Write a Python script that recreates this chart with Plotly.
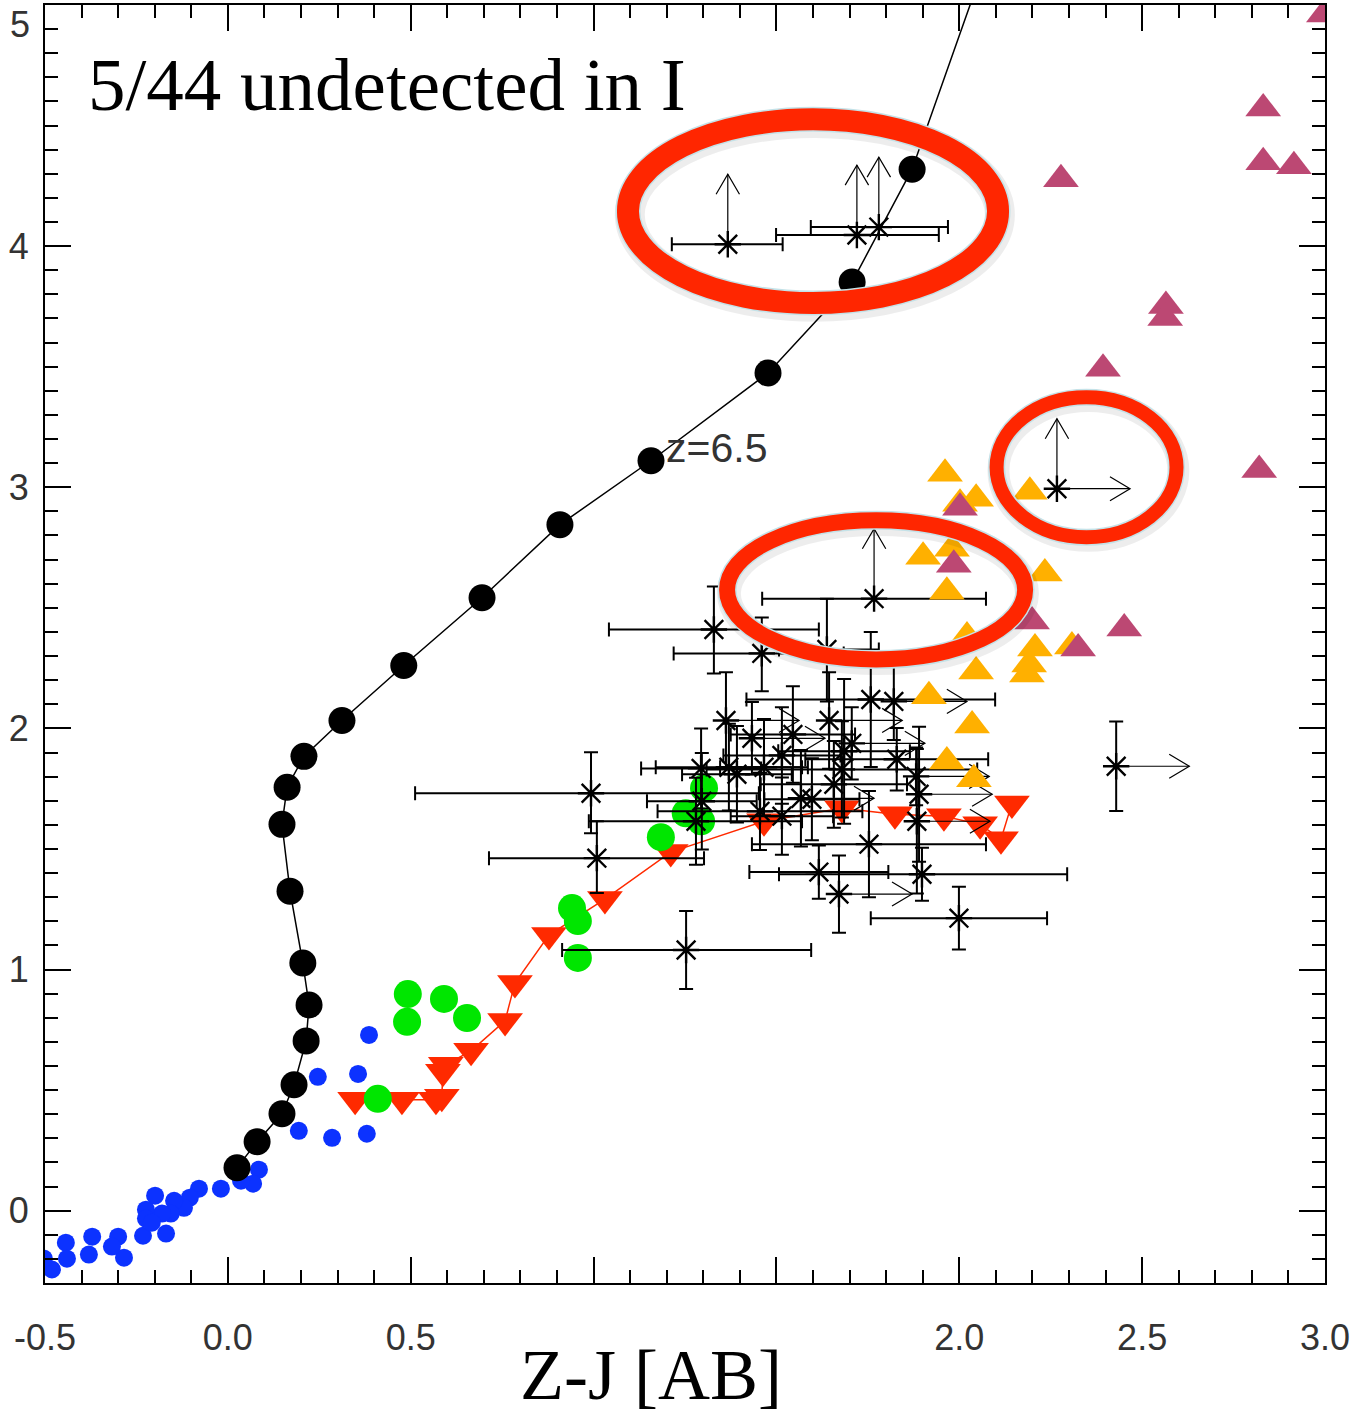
import plotly.graph_objects as go

# ---------------- data ----------------
# blue points
blue_x = [0.386, 0.246, 0.356, 0.194, 0.285, 0.380, 0.085, 0.069, 0.036, -0.019, -0.079, -0.104, -0.120,
          -0.147, -0.156, -0.180, -0.199, -0.224, -0.224, -0.169, -0.232, -0.208, -0.284, -0.300, -0.317,
          -0.371, -0.380, -0.443, -0.440, -0.481, -0.503]
blue_y = [0.729, 0.555, 0.567, 0.331, 0.302, 0.319, 0.170, 0.112, 0.124, 0.091, 0.091, 0.054, 0.012,
          0.041, -0.012, -0.012, 0.062, 0.004, -0.033, -0.095, -0.104, -0.050, -0.195, -0.108, -0.149,
          -0.108, -0.182, -0.133, -0.199, -0.244, -0.199]

# black track (circles + line)
trk_x = [0.025, 0.080, 0.148, 0.181, 0.214, 0.222, 0.205, 0.170, 0.148, 0.162, 0.208, 0.312, 0.481,
         0.695, 0.908, 1.157, 1.477, 1.707, 1.871, 2.090]
trk_y = [0.178, 0.286, 0.402, 0.522, 0.704, 0.853, 1.027, 1.325, 1.602, 1.756, 1.884, 2.033, 2.261,
         2.542, 2.845, 3.110, 3.474, 3.851, 4.319, 5.260]

# red track (down triangles + line)
red_x = [0.348, 0.476, 0.569, 0.585, 0.588, 0.596, 0.665, 0.758, 0.785, 0.878, 1.031, 1.211, 1.466,
         1.679, 1.824, 1.958, 2.057, 2.114, 2.144]
red_y = [0.460, 0.460, 0.460, 0.472, 0.576, 0.605, 0.663, 0.787, 0.944, 1.143, 1.292, 1.487, 1.615,
         1.669, 1.644, 1.636, 1.602, 1.540, 1.689]

# green circles
green_x = [0.410, 0.492, 0.490, 0.591, 0.654, 0.941, 0.957, 0.957, 1.184, 1.252, 1.294, 1.302]
green_y = [0.464, 0.898, 0.783, 0.878, 0.799, 1.255, 1.201, 1.048, 1.549, 1.648, 1.615, 1.752]

# orange triangles
orange_x = [1.961, 2.046, 2.002, 2.193, 1.901, 1.980, 1.966, 2.234, 2.021, 2.046, 2.207, 2.191, 2.185,
            2.308, 1.917, 2.035, 1.966, 2.040]
orange_y = [3.056, 2.952, 2.932, 2.981, 2.712, 2.745, 2.567, 2.642, 2.381, 2.236, 2.331, 2.265, 2.224,
            2.340, 2.133, 2.012, 1.863, 1.789]

# purple triangles
purple_x = [2.831, 2.831, 2.915, 2.278, 2.565, 2.563, 2.393, 2.820, 2.002, 1.985, 2.199, 2.325, 2.451, 2.997]
purple_y = [4.571, 4.348, 4.331, 4.277, 3.752, 3.702, 3.491, 3.072, 2.915, 2.679, 2.443, 2.331, 2.414, 4.961]

# observed objects (asterisks) with errors and limit flags
ast_x = [0.993, 1.009, 1.253, 1.329, 1.460, 1.638, 1.767, 2.267, 2.429, 1.367, 1.720, 1.780,
         1.294, 1.296, 1.280, 1.362, 1.370, 1.392, 1.433, 1.466, 1.515, 1.515, 1.455, 1.545,
         1.567, 1.597, 1.644, 1.657, 1.679, 1.685, 1.706, 1.758, 1.821, 1.829, 1.882, 1.890,
         1.884, 1.753, 1.616, 1.671, 1.898, 1.999]
ast_y = [1.731, 1.462, 1.081, 2.410, 2.311, 2.327, 2.538, 2.994, 1.843, 4.008, 4.046, 4.079,
         1.834, 1.698, 1.615, 2.033, 1.839, 1.810, 1.959, 1.839, 1.888, 1.636, 1.656, 1.975,
         1.710, 1.706, 2.033, 1.768, 1.830, 1.905, 1.938, 2.120, 2.112, 1.872, 1.801, 1.727,
         1.615, 1.520, 1.404, 1.313, 1.395, 1.213]
ast_exlo = [0.481, 0.295, 0.339, 0.287, 0.241, 0.131, 0.306, 0.0, 0.0, 0.153, 0.221, 0.186,
            0.164, 0.150, 0.293, 0.0, 0.200, 0.150, 0.0, 0.120, 0.160, 0.140, 0.280, 0.170,
            0.0, 0.130, 0.0, 0.200, 0.370, 0.180, 0.0, 0.340, 0.0, 0.250, 0.0, 0.0,
            0.0, 0.320, 0.190, 0.0, 0.391, 0.241]
ast_exhi = [0.459, 0.293, 0.342, 0.287, 0.224, 0.142, 0.306, 0.0, 0.0, 0.150, 0.224, 0.189,
            0.164, 0.150, 0.290, 0.0, 0.200, 0.150, 0.0, 0.120, 0.160, 0.140, 0.280, 0.170,
            0.0, 0.130, 0.0, 0.200, 0.370, 0.180, 0.0, 0.340, 0.0, 0.250, 0.0, 0.0,
            0.0, 0.320, 0.190, 0.0, 0.397, 0.241]
ast_eylo = [0.166, 0.145, 0.162, 0.182, 0.157, 0.215, 0.0, 0.0, 0.186, 0.0, 0.0, 0.0,
            0.166, 0.200, 0.180, 0.200, 0.180, 0.200, 0.150, 0.200, 0.200, 0.160, 0.160, 0.200,
            0.200, 0.170, 0.200, 0.180, 0.200, 0.300, 0.150, 0.280, 0.160, 0.130, 0.120, 0.280,
            0.300, 0.220, 0.110, 0.160, 0.110, 0.130]
ast_eyhi = [0.170, 0.153, 0.162, 0.178, 0.149, 0.211, 0.0, 0.0, 0.186, 0.0, 0.0, 0.0,
            0.166, 0.200, 0.180, 0.200, 0.180, 0.200, 0.150, 0.200, 0.200, 0.160, 0.160, 0.200,
            0.200, 0.170, 0.200, 0.180, 0.200, 0.300, 0.150, 0.280, 0.160, 0.130, 0.120, 0.280,
            0.300, 0.220, 0.110, 0.160, 0.110, 0.130]
ast_uplim = [0, 0, 0, 0, 0, 0, 1, 1, 0, 1, 1, 1,
             0, 0, 0, 0, 0, 0, 0, 0, 0, 0, 0, 0,
             0, 0, 0, 0, 0, 0, 0, 0, 0, 0, 0, 0,
             0, 0, 0, 0, 0, 0]
ast_rtlim = [0, 0, 0, 0, 0, 0, 0, 1, 1, 0, 0, 0,
             0, 0, 0, 1, 0, 0, 1, 0, 0, 0, 0, 0,
             1, 0, 1, 0, 0, 0, 1, 0, 1, 0, 1, 1,
             1, 0, 0, 1, 0, 0]

# highlighted regions (x0, x1, y0, y1, line width px)
rings = [(1.094, 2.106, 3.764, 4.526, 22),
         (2.102, 2.594, 2.793, 3.373, 14),
         (1.365, 2.180, 2.286, 2.863, 16)]

x_ticks = [-0.5, 0.0, 0.5, 1.0, 1.5, 2.0, 2.5, 3.0]
x_ticktext = ["-0.5", "0.0", "0.5", "", "", "2.0", "2.5", "3.0"]
y_ticks = [0, 1, 2, 3, 4, 5]
y_ticktext = ["0", "1", "2", "3", "4", ""]

# ---------------- styles ----------------
UP_LEN, UP_HW, UP_HH = 0.29, 0.032, 0.083
RT_LEN, RT_HL, RT_HW = 0.20, 0.055, 0.05
TICKFONT = dict(family="Liberation Sans, Arial, sans-serif", size=36, color="#333333")

fig = go.Figure()

fig.add_trace(go.Scatter(x=blue_x, y=blue_y, mode="markers",
                         marker=dict(color="#0c32ff", size=18, line=dict(width=0)), hoverinfo="skip"))
fig.add_trace(go.Scatter(x=trk_x, y=trk_y, mode="lines+markers",
                         line=dict(color="black", width=1.5),
                         marker=dict(color="black", size=27, line=dict(width=0))))
fig.add_trace(go.Scatter(x=red_x, y=red_y, mode="lines+markers",
                         line=dict(color="#ff2a00", width=1.5),
                         marker=dict(symbol="triangle-down", color="#ff2a00", size=31, line=dict(width=0))))
fig.add_trace(go.Scatter(x=green_x, y=green_y, mode="markers",
                         marker=dict(color="#00e600", size=28, line=dict(width=0))))

# asterisks grouped by which error bars they carry
n = len(ast_x)
for hasx in (True, False):
    for hasy in (True, False):
        ids = [i for i in range(n) if (ast_exhi[i] > 0) == hasx and (ast_eyhi[i] > 0) == hasy]
        if not ids:
            continue
        fig.add_trace(go.Scatter(
            x=[ast_x[i] for i in ids], y=[ast_y[i] for i in ids], mode="markers",
            marker=dict(symbol="asterisk-open", size=22, color="black", line=dict(color="black", width=2.4)),
            error_x=dict(type="data", symmetric=False, visible=hasx,
                         array=[ast_exhi[i] for i in ids], arrayminus=[ast_exlo[i] for i in ids],
                         color="black", thickness=2, width=7),
            error_y=dict(type="data", symmetric=False, visible=hasy,
                         array=[ast_eyhi[i] for i in ids], arrayminus=[ast_eylo[i] for i in ids],
                         color="black", thickness=2, width=7)))

# limit arrows
arx, ary = [], []
for i in range(n):
    x, y = ast_x[i], ast_y[i]
    if ast_uplim[i]:
        t = y + UP_LEN
        arx += [x, x, None, x - UP_HW, x, x + UP_HW, None]
        ary += [y, t, None, t - UP_HH, t, t - UP_HH, None]
    if ast_rtlim[i]:
        t = x + RT_LEN
        arx += [x, t, None, t - RT_HL, t, t - RT_HL, None]
        ary += [y, y, None, y + RT_HW, y, y - RT_HW, None]
fig.add_trace(go.Scatter(x=arx, y=ary, mode="lines", line=dict(color="black", width=1.2)))

fig.add_trace(go.Scatter(x=orange_x, y=orange_y, mode="markers",
                         marker=dict(symbol="triangle-up", color="#ffb000", size=31, line=dict(width=0))))
fig.add_trace(go.Scatter(x=purple_x, y=purple_y, mode="markers",
                         marker=dict(symbol="triangle-up", color="#bc4873", size=31, line=dict(width=0))))

shapes = []
for (x0, x1, y0, y1, w) in rings:
    shapes.append(dict(type="circle", xref="x", yref="y", x0=x0 + 0.005, x1=x1 + 0.005,
                       y0=y0 - 0.015, y1=y1 - 0.015,
                       line=dict(color="rgba(0,0,0,0.07)", width=w + 8)))
    shapes.append(dict(type="circle", xref="x", yref="y", x0=x0, x1=x1, y0=y0, y1=y1,
                       line=dict(color="#c4e2e8", width=w + 3)))
    shapes.append(dict(type="circle", xref="x", yref="y", x0=x0, x1=x1, y0=y0, y1=y1,
                       line=dict(color="#ff2600", width=w)))

annotations = [
    dict(text="5/44 undetected in I", x=-0.388, y=4.671, xref="x", yref="y", xanchor="left",
         yanchor="middle", showarrow=False,
         font=dict(family="Liberation Serif, Times New Roman, serif", size=75, color="black")),
    dict(text="z=6.5", x=1.337, y=3.162, xref="x", yref="y", xanchor="center", yanchor="middle",
         showarrow=False, font=dict(family="Liberation Sans, Arial, sans-serif", size=41, color="#333333")),
    dict(text="Z-J [AB]", x=0.4734, y=-0.1050, xref="paper", yref="paper", xanchor="center",
         yanchor="bottom", showarrow=False,
         font=dict(family="Liberation Serif, Times New Roman, serif", size=72, color="black")),
    dict(text="5", x=-0.0195, y=4.919, xref="paper", yref="y", xanchor="center", yanchor="middle",
         showarrow=False, font=TICKFONT),
]

fig.update_layout(
    width=1354, height=1418,
    margin=dict(l=45, r=29, t=3, b=135, pad=0),
    paper_bgcolor="white", plot_bgcolor="white",
    showlegend=False,
    shapes=shapes, annotations=annotations,
    xaxis=dict(range=[-0.5, 3.0], tickmode="array", tickvals=x_ticks, ticktext=x_ticktext,
               ticks="inside", ticklen=26, tickwidth=2, tickcolor="black",
               showline=True, linecolor="black", linewidth=2, mirror="ticks",
               showgrid=False, zeroline=False, tickfont=TICKFONT, ticklabelstandoff=22,
               minor=dict(dtick=0.1, tick0=0, ticks="inside", ticklen=13, tickwidth=2,
                          tickcolor="black", showgrid=False)),
    yaxis=dict(range=[-0.3, 5.0], tickmode="array", tickvals=y_ticks, ticktext=y_ticktext,
               ticks="inside", ticklen=26, tickwidth=2, tickcolor="black",
               showline=True, linecolor="black", linewidth=2, mirror="ticks",
               showgrid=False, zeroline=False, tickfont=TICKFONT, ticklabelstandoff=7,
               minor=dict(dtick=0.1, tick0=0, ticks="inside", ticklen=13, tickwidth=2,
                          tickcolor="black", showgrid=False)),
)

fig.write_html("out.html")
